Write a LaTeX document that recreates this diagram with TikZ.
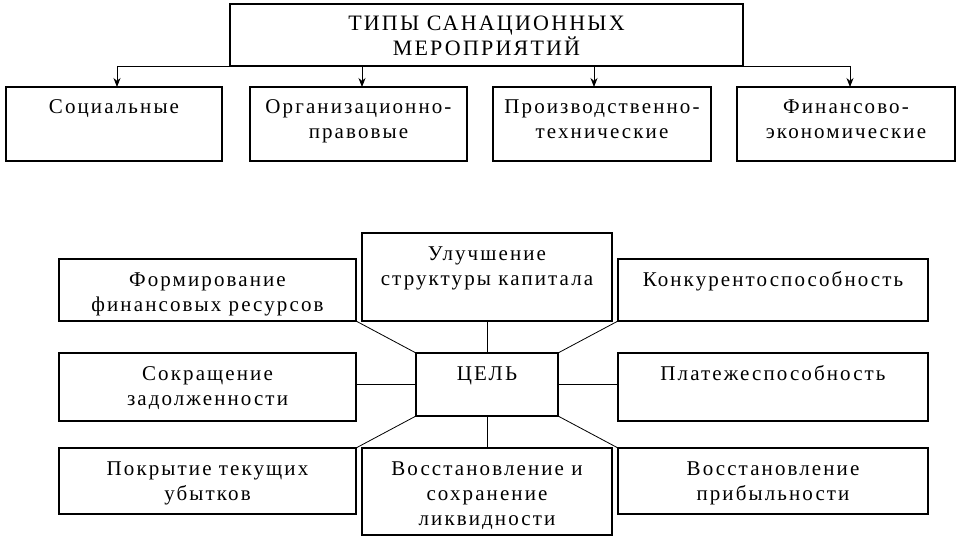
\documentclass[tikz,border=0pt]{standalone}
\usepackage{fontspec}
\setmainfont{Liberation Serif}[LetterSpace=10]
\usetikzlibrary{arrows.meta}
\tikzset{
  box/.style={draw, line width=1.4pt, inner sep=0pt, outer sep=0pt, anchor=north west,
    font=\fontsize{21}{25}\selectfont},
  link/.style={line width=0.8pt},
  arr/.style={line width=0.8pt, -{Stealth[length=9pt,width=7pt]}},
}
\newcommand{\bxt}[3]{\parbox[c][#2][t]{#1}{\centering\rule{0pt}{27pt}#3}}
\begin{document}
\begin{tikzpicture}[x=1pt,y=-1pt]
\useasboundingbox (0,0) rectangle (960,540);
% top part
\node[box, line width=1.1pt, font=\fontsize{22}{25}\selectfont] (title) at (230,4) {\bxt{513pt}{62pt}{ТИПЫ САНАЦИОННЫХ\\МЕРОПРИЯТИЙ}};
\node[box] (soc)  at (6,87)   {\bxt{216pt}{74pt}{Социальные}};
\node[box] (org)  at (250,87) {\bxt{217pt}{74pt}{Организационно-\\правовые}};
\node[box] (prod) at (493,87) {\bxt{218pt}{74pt}{Производственно-\\технические}};
\node[box] (fin)  at (737,87) {\bxt{218pt}{74pt}{Финансово-\\экономические}};
\coordinate (as) at ([xshift=3pt]soc.north);
\coordinate (ao) at ([xshift=3.5pt]org.north);
\coordinate (ap) at ([xshift=-8pt]prod.north);
\coordinate (af) at ([xshift=4pt]fin.north);
\draw[link] (title.south -| as) -- (title.south -| af);
\draw[arr] (title.south -| as) -- (as);
\draw[arr] (title.south -| ao) -- (ao);
\draw[arr] (title.south -| ap) -- (ap);
\draw[arr] (title.south -| af) -- (af);
% bottom part
\node[box] (ul)    at (362,233) {\bxt{250pt}{88pt}{Улучшение\\структуры капитала}};
\node[box] (form)  at (59,259)  {\bxt{297pt}{62pt}{Формирование\\финансовых ресурсов}};
\node[box] (konk)  at (618,259) {\bxt{310pt}{62pt}{Конкурентоспособность}};
\node[box] (sokr)  at (59,353)  {\bxt{297pt}{68pt}{Сокращение\\задолженности}};
\node[box] (cel)   at (416,353) {\bxt{142pt}{63pt}{ЦЕЛЬ}};
\node[box] (plat)  at (618,353) {\bxt{310pt}{68pt}{Платежеспособность}};
\node[box] (pokr)  at (59,448)  {\bxt{297pt}{66pt}{Покрытие текущих\\убытков}};
\node[box] (vliq)  at (362,448) {\bxt{250pt}{87pt}{Восстановление и\\сохранение\\ликвидности}};
\node[box] (vprib) at (618,448) {\bxt{310pt}{66pt}{Восстановление\\прибыльности}};
\draw[link] (form.south east) -- (cel.north west);
\draw[link] (ul.south) -- (cel.north);
\draw[link] (konk.south west) -- (cel.north east);
\draw[link] (cel.west) -- (cel.west -| sokr.east);
\draw[link] (cel.east) -- (cel.east -| plat.west);
\draw[link] (pokr.north east) -- (cel.south west);
\draw[link] (vliq.north) -- (cel.south);
\draw[link] (vprib.north west) -- (cel.south east);
\end{tikzpicture}
\end{document}
